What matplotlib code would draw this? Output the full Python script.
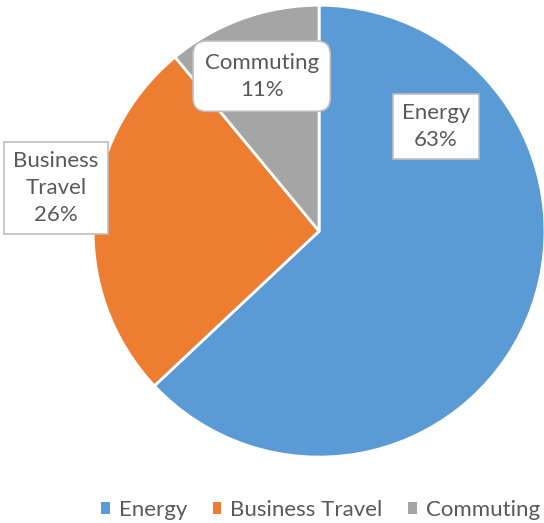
import numpy as np
import matplotlib.pyplot as plt
from matplotlib.patches import Patch

plt.rcParams['font.family'] = ['Lato', 'DejaVu Sans']

# du lieu
categories = ["Energy", "Business Travel", "Commuting"]
shares = [63, 26, 11]
colors = ["#5B9BD5", "#ED7D31", "#A5A5A5"]
box_labels = ["Energy\n63%", "Business\nTravel\n26%", "Commuting\n11%"]

fig = plt.figure(figsize=(5.44, 5.23), dpi=100)
ax = fig.add_axes([0.171, 0.126, 0.831, 0.864])

wedges, _ = ax.pie(shares, colors=colors, startangle=90, counterclock=False,
                   radius=1, wedgeprops=dict(edgecolor="white", linewidth=2))
ax.set_xlim(-1, 1)
ax.set_ylim(-1, 1)
ax.set_aspect("equal")
ax.axis("off")

# vi tri nhan (toa do du lieu)
label_pos = [(0.518, 0.465), (-1.164, 0.190), (-0.254, 0.686)]
box_styles = ["square,pad=0.4", "square,pad=0.4", "round,pad=0.52,rounding_size=0.6"]
for txt, (x, y), bs in zip(box_labels, label_pos, box_styles):
    ax.text(x, y, txt, ha="center", va="center", fontsize=16, color="#595959",
            linespacing=1.45, clip_on=False,
            bbox=dict(boxstyle=bs, facecolor="white", edgecolor="#BFBFBF", linewidth=1.2))

handles = [Patch(facecolor=c, edgecolor="none") for c in colors]
fig.legend(handles, categories, loc="center", bbox_to_anchor=(0.589, 0.025), ncol=3,
           frameon=False, fontsize=16, labelcolor="#595959",
           handlelength=0.4, handleheight=0.4, handletextpad=0.4, columnspacing=1.15)

fig.savefig("out.png", dpi=100)
